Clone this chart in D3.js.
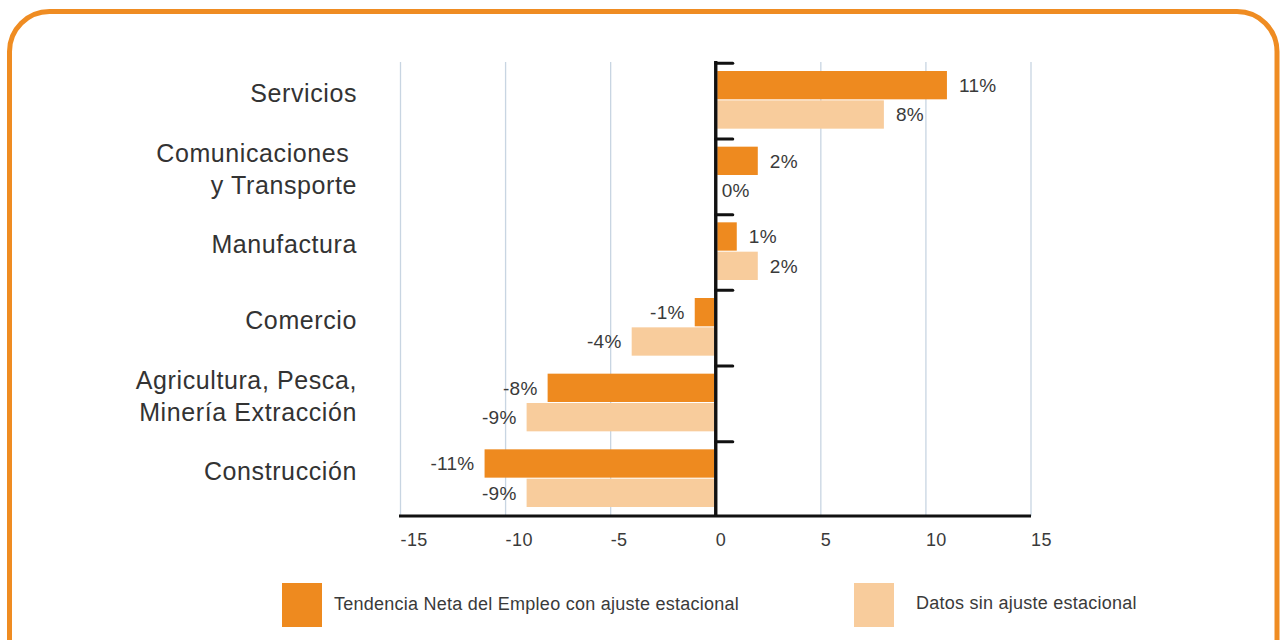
<!DOCTYPE html>
<html><head><meta charset="utf-8">
<script src="https://cdn.jsdelivr.net/npm/d3@7"></script>
<style>
html,body{margin:0;padding:0;background:#fff;}
svg{display:block;font-family:"Liberation Sans",Arial,sans-serif;}
</style></head>
<body>
<script>
const categories = [["Servicios"],["Comunicaciones ","y Transporte"],["Manufactura"],["Comercio"],["Agricultura, Pesca,","Minería Extracción"],["Construcción"]];
const seriesNames = ["Tendencia Neta del Empleo con ajuste estacional","Datos sin ajuste estacional"];
const adjusted = [11, 2, 1, -1, -8, -11];
const unadjusted = [8, 0, 2, -4, -9, -9];
const xTicks = [-15, -10, -5, 0, 5, 10, 15];
const colors = ["#ee8a1f", "#f8cc9c"];

const W = 1282, H = 640;
const svg = d3.select("body").append("svg").attr("width", W).attr("height", H);

// frame
svg.append("rect").attr("x", 9.5).attr("y", 11.5).attr("width", 1267.5).attr("height", 700)
  .attr("rx", 40).attr("ry", 40).attr("fill", "none").attr("stroke", "#ef8c22").attr("stroke-width", 5);

const x = d3.scaleLinear().domain([-15, 15]).range([400.5, 1031]);
const y = d3.scaleBand().domain(d3.range(categories.length)).range([62, 516]);
const inner = d3.scaleBand().domain([0, 1]).range([9, y.bandwidth() - 9]).paddingInner(0.035);

// grid
svg.append("g").selectAll("line").data(xTicks).join("line")
  .attr("x1", d => x(d)).attr("x2", d => x(d)).attr("y1", 62).attr("y2", 516)
  .attr("stroke", "#c8d5e2").attr("stroke-width", 1.3);

// bars
const series = [adjusted, unadjusted];
series.forEach((vals, si) => {
  const g = svg.append("g");
  g.selectAll("rect").data(vals).join("rect")
    .attr("x", d => d >= 0 ? x(0) + 1.5 : x(d))
    .attr("width", d => d >= 0 ? Math.max(0, x(d) - x(0) - 1.5) : x(0) - x(d) - 1.5)
    .attr("y", (d, i) => y(i) + inner(si))
    .attr("height", inner.bandwidth())
    .attr("fill", colors[si]);
  g.selectAll("text").data(vals).join("text")
    .attr("x", d => d > 0 ? x(d) + 12 : (d < 0 ? x(d) - 10 : x(0) + 6))
    .attr("y", (d, i) => y(i) + inner(si) + inner.bandwidth() / 2)
    .attr("dy", "0.36em")
    .attr("text-anchor", d => d < 0 ? "end" : "start")
    .attr("font-size", 19).attr("letter-spacing", 0.3).attr("fill", "#3a3a3a")
    .text(d => d + "%");
});

// x axis line
svg.append("line").attr("x1", 399).attr("x2", 1031).attr("y1", 516).attr("y2", 516)
  .attr("stroke", "#111").attr("stroke-width", 3.2);
// zero line
svg.append("line").attr("x1", x(0)).attr("x2", x(0)).attr("y1", 61).attr("y2", 517)
  .attr("stroke", "#111").attr("stroke-width", 3.4);
// category ticks on zero line
svg.append("g").selectAll("line").data(d3.range(categories.length)).join("line")
  .attr("x1", x(0)).attr("x2", x(0) + 17).attr("y1", d => y(d) + 1.3).attr("y2", d => y(d) + 1.3)
  .attr("stroke", "#111").attr("stroke-width", 3).attr("stroke-linecap", "round");

// tick labels
svg.append("g").selectAll("text").data(xTicks).join("text")
  .attr("x", d => x(d)).attr("y", 540).attr("dy", "0.36em")
  .attr("text-anchor", "start").attr("font-size", 18).attr("letter-spacing", 0.4).attr("fill", "#3a3a3a")
  .text(d => d);

// category labels
categories.forEach((lines, i) => {
  const cy = y(i) + y.bandwidth() / 2 - 7;
  const lh = 32;
  lines.forEach((ln, j) => {
    svg.append("text").attr("x", 357).attr("y", cy + (j - (lines.length - 1) / 2) * lh)
      .attr("dy", "0.36em").attr("text-anchor", "end").attr("font-size", 25).attr("letter-spacing", 0.6)
      .attr("fill", "#333").attr("xml:space", "preserve").style("white-space", "pre").text(ln);
  });
});

// legend
const legX = [282, 854];
seriesNames.forEach((n, i) => {
  svg.append("rect").attr("x", legX[i]).attr("y", 583).attr("width", 40).attr("height", 44).attr("fill", colors[i]);
  svg.append("text").attr("x", legX[i] + (i === 0 ? 52 : 62)).attr("y", i === 0 ? 604 : 603).attr("dy", "0.36em")
    .attr("font-size", 18).attr("letter-spacing", 0.25).attr("fill", "#3a3a3a").text(n);
});
</script>
</body></html>
